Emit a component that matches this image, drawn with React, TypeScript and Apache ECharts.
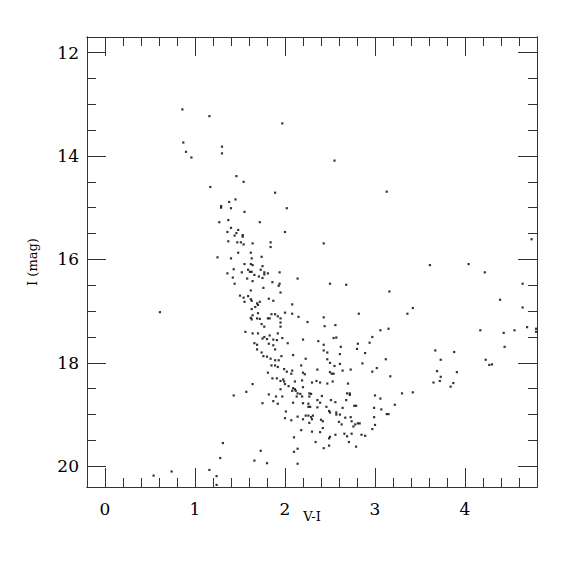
import React, { useEffect, useRef } from "react";
import * as echarts from "echarts";

const xMajor = [0, 1, 2, 3, 4];
const xMinor = [-0.2, 0.2, 0.4, 0.6, 0.8, 1.2, 1.4, 1.6, 1.8, 2.2, 2.4, 2.6, 2.8, 3.2, 3.4, 3.6, 3.8, 4.2, 4.4, 4.6, 4.8];
const yMajor = [12, 14, 16, 18, 20];
const yMinor = [12.5, 13, 13.5, 14.5, 15, 15.5, 16.5, 17, 17.5, 18.5, 19, 19.5];

// V-I colour
const vi = [
  0.86, 1.16, 0.87, 0.90, 0.96, 1.30, 1.30, 1.46, 1.97, 2.55, 1.17, 1.54, 1.89, 3.13, 1.45, 1.38, 1.29, 1.29, 1.40, 1.55,
  2.02, 1.27, 1.37, 1.72, 1.40, 1.48, 1.36, 1.46, 1.44, 1.53, 1.53, 2.00, 1.37, 1.47, 1.51, 1.54, 1.64, 1.84, 1.84, 2.43,
  1.48, 1.62, 1.25, 1.40, 1.63, 1.74, 1.55, 1.62, 1.64, 1.75, 1.43, 1.36, 1.42, 1.52, 1.59, 1.61, 1.63, 1.73, 1.77, 1.77,
  1.81, 1.94, 1.66, 1.71, 1.75, 1.58, 2.14, 3.61, 4.04, 4.22, 4.74, 1.44, 0.61, 1.64, 1.86, 1.94, 1.93, 2.50, 2.68, 3.16,
  1.62, 1.76, 1.95, 1.50, 1.54, 1.59, 1.62, 1.63, 1.55, 1.69, 1.70, 1.72, 1.82, 1.87, 1.67, 1.63, 2.08, 1.70, 1.85, 1.89,
  1.92, 2.00, 2.08, 2.15, 1.64, 1.62, 1.63, 1.69, 1.72, 1.81, 1.83, 1.95, 2.43, 2.82, 1.95, 2.25, 1.74, 1.77, 1.95, 2.44,
  2.56, 1.56, 1.64, 1.70, 1.92, 3.06, 3.15, 2.97, 1.77, 1.75, 1.83, 1.80, 1.87, 1.91, 1.97, 2.20, 2.54, 2.57, 2.37, 1.66,
  1.69, 1.82, 1.87, 2.03, 2.43, 2.62, 2.81, 2.94, 1.69, 1.89, 2.43, 2.47, 2.80, 1.74, 1.76, 1.80, 1.84, 1.96, 2.09, 1.89,
  1.93, 2.23, 2.61, 2.89, 2.47, 2.50, 2.55, 2.61, 2.86, 3.12, 3.02, 2.97, 1.85, 1.89, 1.92, 1.99, 2.02, 2.08, 2.18, 2.20,
  2.22, 2.36, 2.50, 2.52, 2.54, 2.64, 2.73, 1.81, 2.07, 1.86, 1.91, 1.98, 1.95, 2.11, 2.19, 2.30, 2.35, 2.39, 2.47, 2.53,
  2.70, 1.64, 2.00, 1.43, 1.31, 1.28, 1.16, 1.24, 1.24, 0.54, 0.74, 1.73, 1.66, 1.80, 2.14, 2.10, 2.14, 2.10, 1.57, 1.75,
  1.82, 1.87, 1.92, 1.90, 1.97, 1.95, 1.99, 2.04, 2.09, 2.11, 2.08, 2.12, 2.14, 2.17, 2.20, 2.19, 2.13, 2.27, 2.29, 2.27,
  2.41, 2.36, 2.39, 2.51, 2.56, 2.20, 2.09, 2.26, 2.26, 2.28, 2.36, 2.46, 2.69, 2.72, 2.72, 2.68, 2.64, 2.77, 2.79, 2.49,
  2.50, 2.57, 2.57, 2.61, 2.01, 2.23, 2.26, 2.31, 2.29, 2.30, 2.14, 2.00, 2.07, 2.20, 2.27, 2.40, 2.42, 2.60, 2.63, 2.67,
  2.73, 2.74, 2.76, 2.78, 2.81, 2.83, 2.18, 2.30, 2.39, 2.42, 2.56, 2.50, 2.49, 2.66, 2.69, 2.74, 2.85, 2.89, 2.71, 2.34,
  2.49, 2.43, 2.79, 2.97, 3.00, 2.99, 2.99, 3.00, 3.06, 3.07, 3.13, 3.15, 4.17, 4.43, 4.55, 4.69, 4.79, 4.79, 4.44, 3.67,
  3.88, 3.73, 4.23, 4.27, 4.30, 3.69, 3.73, 3.72, 3.65, 3.91, 3.87, 3.84, 3.17, 3.30, 3.42, 3.22, 4.64, 4.39, 4.64, 3.42,
  3.36,
];

// I magnitude
const imag = [
  13.10, 13.23, 13.74, 13.92, 14.03, 13.82, 13.95, 14.39, 13.37, 14.09, 14.60, 14.50, 14.71, 14.69, 14.84, 14.89, 15.00, 14.97, 15.01, 15.08,
  15.01, 15.28, 15.24, 15.28, 15.39, 15.43, 15.47, 15.49, 15.54, 15.53, 15.56, 15.47, 15.65, 15.67, 15.67, 15.71, 15.69, 15.67, 15.76, 15.69,
  15.87, 15.87, 15.96, 15.98, 15.98, 15.95, 16.09, 16.09, 16.11, 16.13, 16.19, 16.27, 16.35, 16.25, 16.20, 16.24, 16.24, 16.20, 16.25, 16.29,
  16.27, 16.25, 16.30, 16.33, 16.36, 16.37, 16.37, 16.11, 16.09, 16.25, 15.61, 16.47, 17.02, 16.42, 16.44, 16.47, 16.51, 16.47, 16.49, 16.62,
  16.60, 16.55, 16.64, 16.70, 16.74, 16.71, 16.77, 16.80, 16.82, 16.85, 16.88, 16.82, 16.76, 16.80, 16.92, 16.96, 16.87, 17.04, 17.06, 17.06,
  17.10, 17.03, 17.05, 17.11, 17.08, 17.13, 17.16, 17.14, 17.15, 17.14, 17.14, 17.14, 17.12, 17.05, 17.22, 17.21, 17.25, 17.30, 17.30, 17.29,
  17.27, 17.40, 17.43, 17.43, 17.43, 17.37, 17.34, 17.50, 17.50, 17.53, 17.47, 17.54, 17.55, 17.56, 17.52, 17.55, 17.52, 17.51, 17.58, 17.62,
  17.65, 17.63, 17.66, 17.62, 17.65, 17.69, 17.63, 17.61, 17.74, 17.74, 17.76, 17.80, 17.73, 17.80, 17.87, 17.88, 17.92, 17.87, 17.85, 17.95,
  17.95, 17.92, 17.83, 17.81, 17.93, 18.00, 18.06, 18.02, 18.01, 17.93, 18.10, 18.17, 18.05, 18.05, 18.08, 18.12, 18.17, 18.15, 18.05, 18.19,
  18.22, 18.13, 18.18, 18.21, 18.21, 18.15, 18.13, 18.19, 18.21, 18.30, 18.30, 18.32, 18.35, 18.36, 18.34, 18.38, 18.35, 18.38, 18.40, 18.36,
  18.40, 18.41, 18.41, 18.63, 19.55, 19.84, 20.07, 20.19, 20.36, 20.18, 20.10, 19.70, 19.89, 19.94, 19.95, 19.72, 19.66, 19.44, 18.56, 18.78,
  18.61, 18.74, 18.79, 18.65, 18.65, 18.51, 18.36, 18.45, 18.49, 18.51, 18.54, 18.54, 18.59, 18.60, 18.47, 18.65, 18.65, 18.59, 18.60, 18.65,
  18.64, 18.72, 18.77, 18.72, 18.76, 18.78, 18.77, 18.79, 18.85, 18.85, 18.86, 18.85, 18.59, 18.59, 18.62, 18.72, 18.87, 18.83, 18.83, 18.93,
  18.96, 18.96, 19.00, 19.00, 18.94, 19.02, 19.02, 19.02, 19.05, 19.09, 19.04, 19.07, 19.11, 19.09, 19.16, 19.10, 19.13, 19.14, 19.19, 19.06,
  19.05, 19.13, 19.23, 19.19, 19.17, 19.17, 19.30, 19.33, 19.34, 19.26, 19.39, 19.43, 19.46, 19.37, 19.42, 19.37, 19.39, 19.41, 19.53, 19.53,
  19.60, 19.65, 19.62, 19.28, 19.20, 19.05, 18.87, 18.63, 18.69, 18.90, 18.99, 18.99, 17.37, 17.42, 17.37, 17.31, 17.34, 17.40, 17.69, 17.76,
  17.79, 17.94, 17.94, 18.04, 18.03, 18.16, 18.27, 18.35, 18.38, 18.18, 18.39, 18.46, 18.26, 18.59, 18.57, 18.81, 16.47, 16.78, 16.93, 16.94,
  17.05,
];

const FONT = "DejaVu Serif";

export default function App() {
  const ref = useRef<HTMLDivElement>(null);
  useEffect(() => {
    if (!ref.current) return;
    const chart = echarts.init(ref.current, null, { renderer: "svg" });
    const lineStyle = { color: "#333", width: 1 };
    const xBase = {
      type: "value" as const,
      min: -0.2,
      max: 4.8,
      splitLine: { show: false },
      axisLine: { show: true, onZero: false, lineStyle },
    };
    const yBase = {
      type: "value" as const,
      min: 11.7,
      max: 20.4,
      inverse: true,
      splitLine: { show: false },
      axisLine: { show: true, onZero: false, lineStyle },
    };
    const major = (vals: number[]) => ({ show: true, inside: true, length: 19, customValues: vals, lineStyle });
    const minor = (vals: number[]) => ({ show: true, inside: true, length: 9, customValues: vals, lineStyle });
    const n = Math.min(vi.length, imag.length);
    const data: number[][] = [];
    for (let i = 0; i < n; i++) data.push([vi[i], imag[i]]);
    chart.setOption({
      animation: false,
      backgroundColor: "#fff",
      grid: { left: 87, top: 37, width: 450, height: 450, containLabel: false },
      xAxis: [
        {
          ...xBase,
          position: "bottom",
          axisTick: major(xMajor),
          axisLabel: {
            customValues: xMajor,
            formatter: (v: number) => String(Math.round(v)),
            fontFamily: FONT,
            fontSize: 17,
            color: "#000",
            margin: 13,
          },
          name: "V-I",
          nameLocation: "middle",
          nameGap: 23,
          nameMoveOverlap: false,
          nameTextStyle: { fontFamily: FONT, fontSize: 13, color: "#000" },
        },
        { ...xBase, position: "bottom", axisTick: minor(xMinor), axisLabel: { show: false } },
        { ...xBase, position: "top", axisTick: major(xMajor), axisLabel: { show: false } },
        { ...xBase, position: "top", axisTick: minor(xMinor), axisLabel: { show: false } },
      ],
      yAxis: [
        {
          ...yBase,
          position: "left",
          axisTick: major(yMajor),
          axisLabel: {
            customValues: yMajor,
            formatter: (v: number) => String(Math.round(v)),
            fontFamily: FONT,
            fontSize: 17,
            color: "#000",
            margin: 8,
          },
          name: "I (mag)",
          nameLocation: "middle",
          nameGap: 48,
          nameRotate: 90,
          nameTextStyle: { fontFamily: FONT, fontSize: 13, color: "#000" },
        },
        { ...yBase, position: "left", axisTick: minor(yMinor), axisLabel: { show: false } },
        { ...yBase, position: "right", axisTick: major(yMajor), axisLabel: { show: false } },
        { ...yBase, position: "right", axisTick: minor(yMinor), axisLabel: { show: false } },
      ],
      series: [
        {
          type: "scatter",
          xAxisIndex: 0,
          yAxisIndex: 0,
          data,
          symbol: "rect",
          symbolSize: 2.2,
          itemStyle: { color: "#000" },
          clip: true,
        },
      ],
    });
    return () => chart.dispose();
  }, []);
  return <div ref={ref} style={{ position: "fixed", left: 0, top: 0, width: 575, height: 575 }} />;
}
